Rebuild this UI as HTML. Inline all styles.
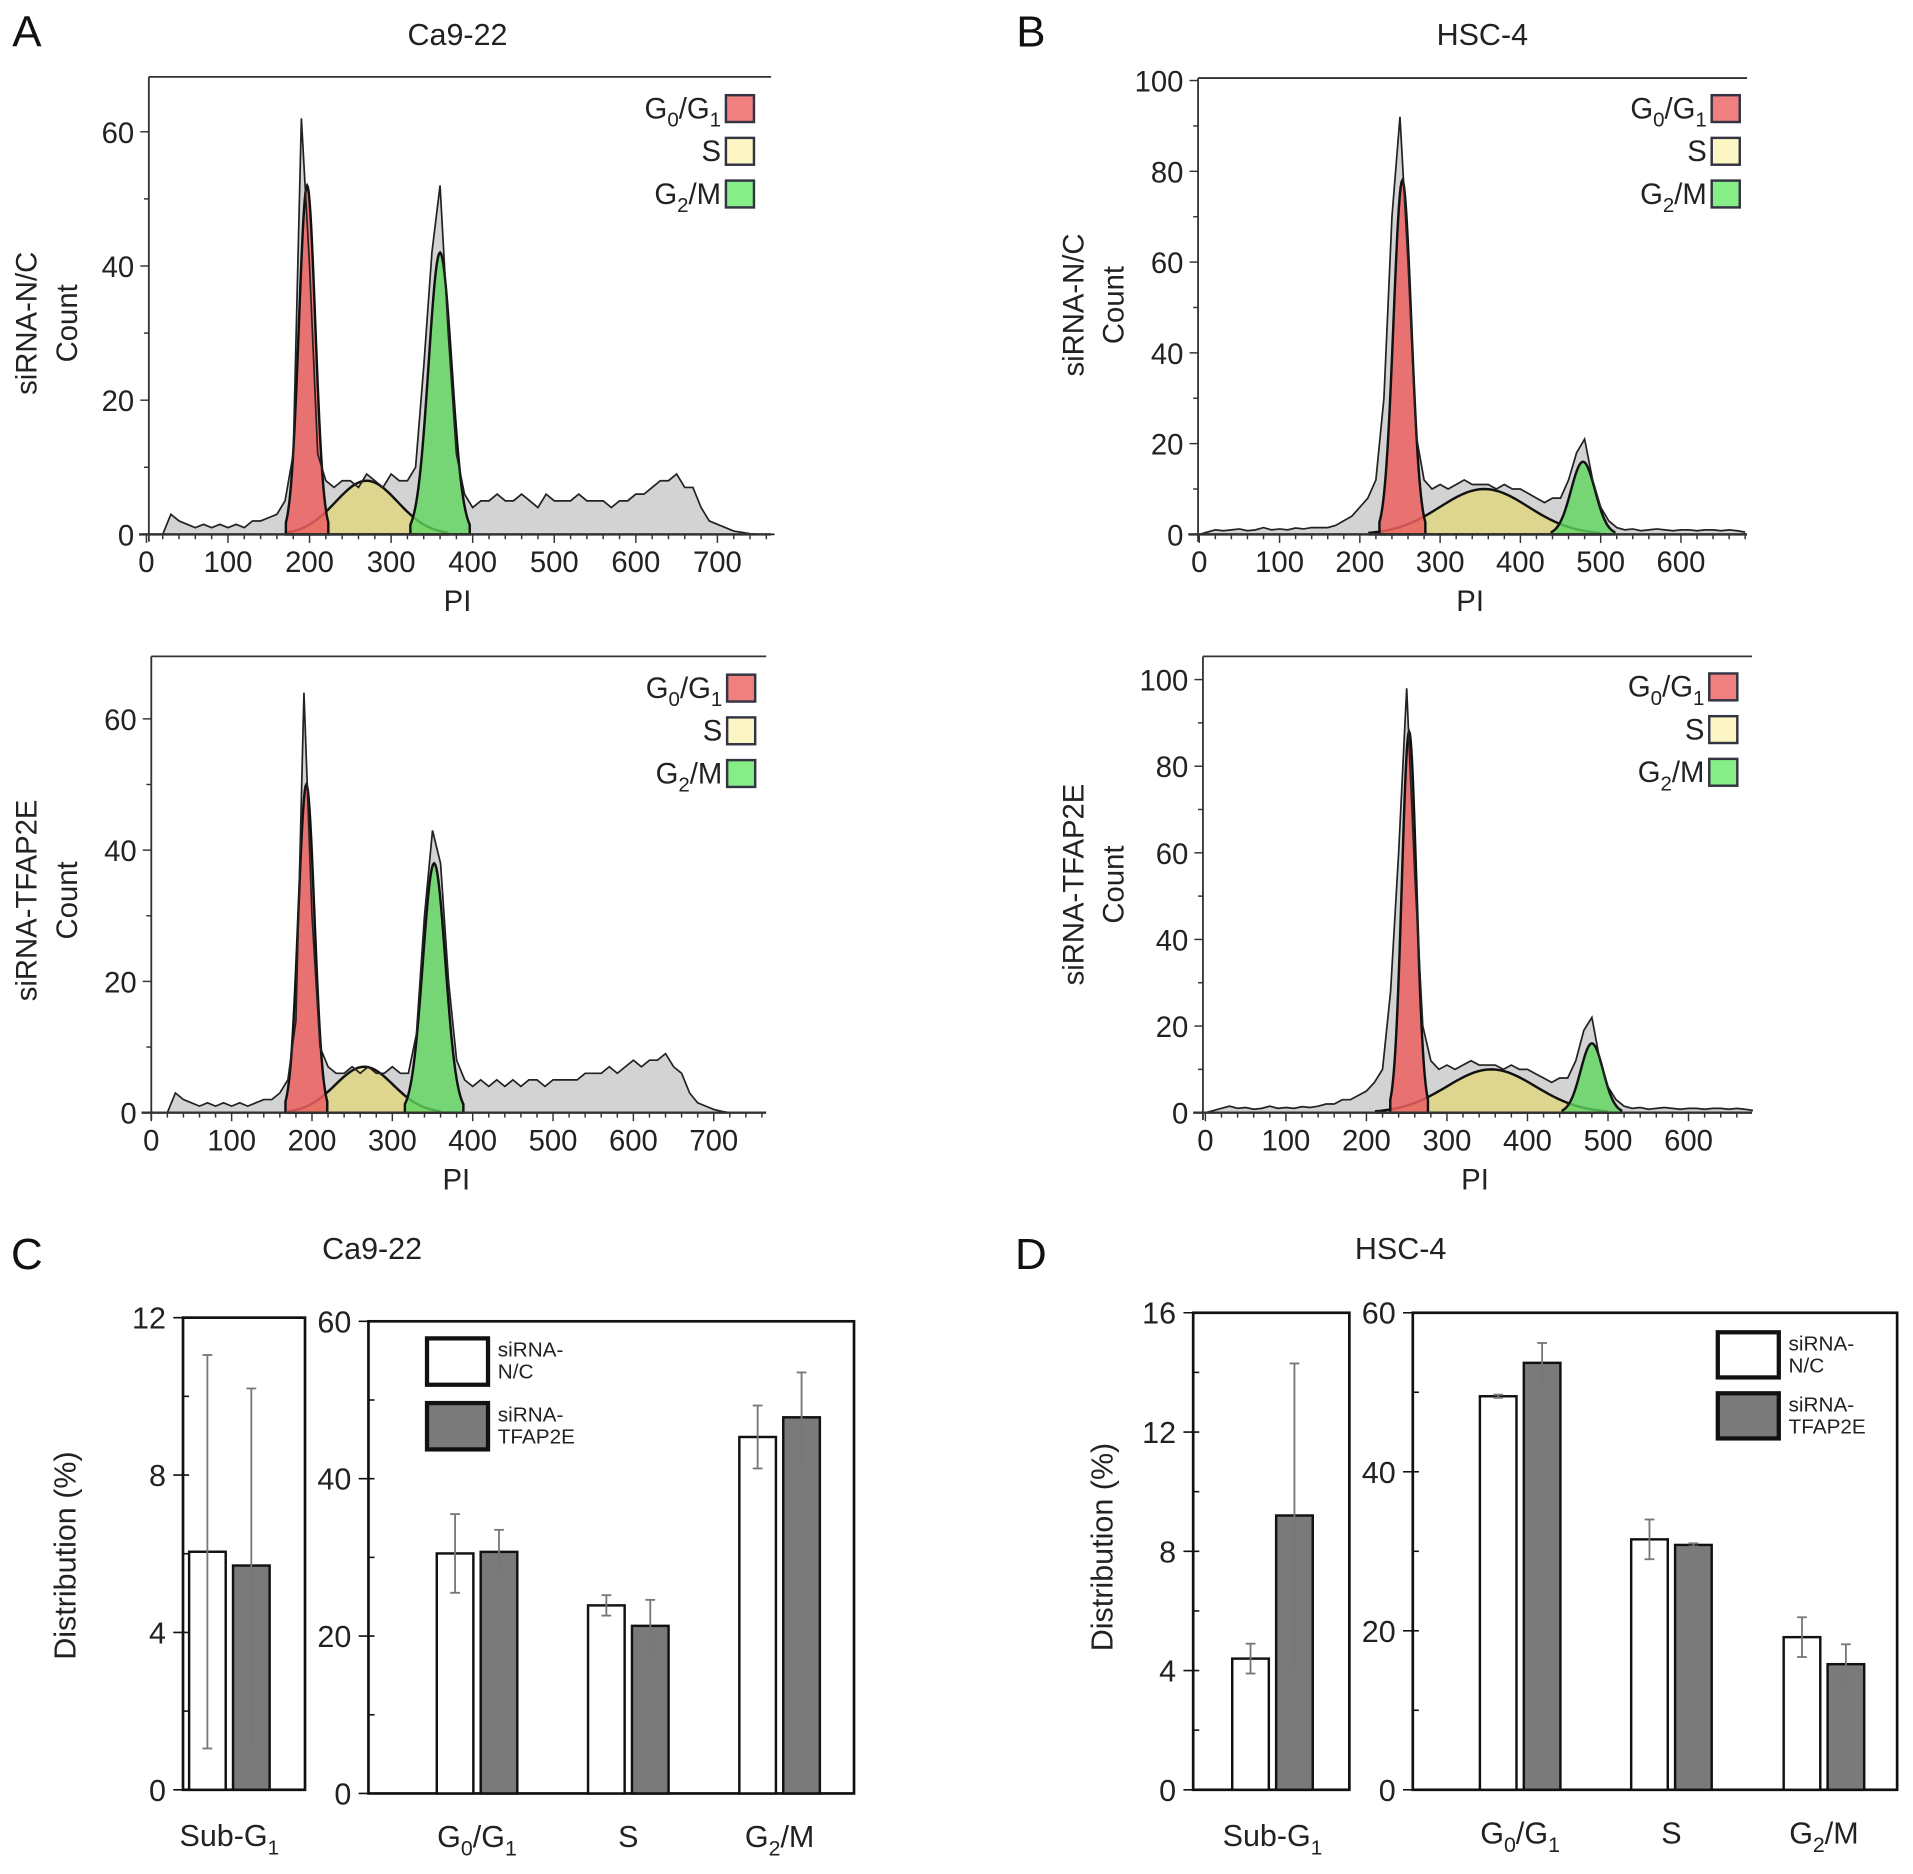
<!DOCTYPE html>
<html><head><meta charset="utf-8"><style>
html,body{margin:0;padding:0;background:#fff;}
svg{display:block;font-family:"Liberation Sans",Arial,sans-serif;}
</style></head><body>
<svg id="fig" width="1913" height="1874" viewBox="0 0 1568 1536" xmlns="http://www.w3.org/2000/svg">
<rect width="1568" height="1536" fill="#fff"/>
<g id="root"></g>
</svg>
<script>
// ---------- Histogram data (counts per 10 PI units starting at 0) ----------
const caNC_hist = [0,0,0,3,2,1.5,1,1.5,1,1.5,1,1.5,1,2,2,2.5,3,5,12,62,40,12,8,7,8,8,7,9,8,7,9,8,8,10,25,42,52,30,12,6,4,5,5,6,5,5,6,5,4,6,5,5,5,6,5,5,5,4,5,5,6,6,7,8,8,9,7,7,4,2,1.5,1,0.5,0.3,0.1,0,0,0];
const caTF_hist = [0,0,0,3,2,1.5,1,1.5,1,1.5,1,1.5,1,1.5,2,2,3,5,14,64,30,10,7,6,6,7,6,7,6,6,7,6,6,12,30,43,38,20,8,5,4,5,4,5,4,5,4,5,5,4,5,5,5,5,6,6,6,7,6,7,8,7,8,8,9,7,6,3,1.5,1,0.5,0.2,0,0,0,0,0];
const hscNC_hist = [0,0.5,1,0.8,1,1.2,0.8,1,1.5,1,1.2,1,1.4,1.2,1.5,1.5,1.5,2,3,4,6,8,12,30,70,92,60,22,12,10,11,10,11,12,11,11,11,10,11,10,10,9,8,7,8,8,12,18,21,12,6,3,1.5,1,1.2,0.8,1,1.2,1,0.8,1,1,0.8,1,1,0.8,1,0.8,0.5];
const hscTF_hist = [0,0.5,1,1.5,1,1.2,0.8,1,1.5,1,1.2,1,1.4,1.2,1.5,2,2,3,3,4,5,7,10,28,60,98,55,20,12,10,11,10,11,12,11,11,11,10,11,10,10,9,8,7,8,8,12,19,22,12,6,3,1.5,1,1.2,0.8,1,1.2,1,0.8,1,1,0.8,1,1,0.8,1,0.8,0.5];
// ---------- Fitted components: [amplitude, center, sigma] ----------
const caNC_fit = {g1:[52,197,10], s:[8,270,38], g2:[42,360,14]};
const caTF_fit = {g1:[50,193,10], s:[7,265,36], g2:[38,352,14]};
const hscNC_fit = {g1:[78,253,11], s:[10,355,55], g2:[16,478,15]};
const hscTF_fit = {g1:[88,253,9], s:[10,355,55], g2:[16,480,14]};
// ---------- Bar data ----------
const phaseCats = ["G0/G1","S","G2/M"];
const caSub_nc = [6.05], caSub_nc_err = [5.0];
const caSub_tf = [5.7], caSub_tf_err = [4.5];
const caPh_nc = [30.5,23.9,45.3], caPh_nc_err = [5.0,1.3,4.0];
const caPh_tf = [30.7,21.3,47.8], caPh_tf_err = [2.8,3.3,5.7];
const hsSub_nc = [4.4], hsSub_nc_err = [0.5];
const hsSub_tf = [9.2], hsSub_tf_err = [5.1];
const hsPh_nc = [49.5,31.5,19.2], hsPh_nc_err = [0.2,2.5,2.5];
const hsPh_tf = [53.7,30.8,15.8], hsPh_tf_err = [2.5,0.2,2.5];
const histXTicks = [0,100,200,300,400,500,600,700];

const NS="http://www.w3.org/2000/svg";
const root=document.getElementById('root');
function el(tag,attrs,parent,text){
  const e=document.createElementNS(NS,tag);
  for(const k in attrs) e.setAttribute(k,attrs[k]);
  if(text!==undefined) e.textContent=text;
  (parent||root).appendChild(e); return e;
}
function label(x,y,txt,size,anchor,parent,sub){
  const t=el('text',{x:x,y:y,'font-size':size,'text-anchor':anchor||'middle',fill:'#222'},parent);
  
  
  // sub: array of [text, isSub]
  (sub||[[txt,false]]).forEach(p=>{
    const s=el('tspan',p[1]?{'font-size':size*0.7,dy:size*0.25}:{dy:p[2]||0},t,p[0]);
  });
  return t;
}
function phaseParts(name){
  if(name==="G0/G1") return [["G",false],["0",true],["/G",false,-0],["1",true]];
  if(name==="G2/M") return [["G",false],["2",true],["/M",false]];
  return [[name,false]];
}
// fix baseline shifts for subscript tspans
function sublabel(x,y,name,size,anchor,parent){
  const t=el('text',{x:x,y:y,'font-size':size,'text-anchor':anchor||'middle',fill:'#222'},parent);
  
  
  let shifted=false;
  phaseParts(name).forEach(p=>{
    if(p[1]){el('tspan',{'font-size':size*0.7,dy:size*0.28},t,p[0]);shifted=true;}
    else{el('tspan',{dy:shifted?-size*0.28:0},t,p[0]);shifted=false;}
  });
  return t;
}

// ---------- Histogram panel ----------
function histPanel(cfg){
  const g=el('g',{});
  
  
  const X=v=>cfg.x0+v*cfg.xpu, Y=v=>cfg.y0-v*cfg.ypu;
  const hist=cfg.hist;
  // gray area
  let pts=[[X(0),Y(0)]];
  hist.forEach((v,i)=>pts.push([X(i*10),Y(v)]));
  pts.push([X((hist.length-1)*10),Y(0)]);
  const area=el('polygon',{points:pts.map(p=>p.join(',')).join(' '),fill:'#d3d3d3',stroke:'none'},g);
  
  
  // components
  const comps=[['s','rgba(225,215,120,0.75)','s-phase-fit'],['g1','rgba(235,95,95,0.85)','g1-phase-fit'],['g2','rgba(95,215,95,0.8)','g2m-phase-fit']];
  comps.forEach(c=>{
    const [a,m,s]=cfg.fit[c[0]];
    let p=[];
    for(let v=m-2.6*s; v<=m+2.6*s+0.01; v+=s/10){p.push([X(v),Y(a*Math.exp(-0.5*((v-m)/s)**2))]);}
    const d='M'+X(m-2.6*s)+','+Y(0)+' L'+p.map(q=>q.join(',')).join(' L')+' L'+X(m+2.6*s)+','+Y(0)+'Z';
    const path=el('path',{d:d,fill:c[1],stroke:'#111','stroke-width':2},g);
    
    
  });
  // hist outline
  const line=el('polyline',{points:hist.map((v,i)=>X(i*10)+','+Y(v)).join(' '),fill:'none',stroke:'#222','stroke-width':1.4},g);
  
  
  // axes
  el('line',{x1:cfg.ax,y1:cfg.top,x2:cfg.xEnd,y2:cfg.top,stroke:'#333','stroke-width':1.5},g);
  el('line',{x1:cfg.ax,y1:cfg.top,x2:cfg.ax,y2:cfg.y0+6,stroke:'#333','stroke-width':1.5},g);
  el('line',{x1:cfg.ax-8,y1:cfg.y0,x2:cfg.xEnd,y2:cfg.y0,stroke:'#333','stroke-width':2},g);
  for(let v=0;X(v)<=cfg.xEnd;v+=20){
    const major=v%100===0;
    el('line',{x1:X(v),y1:cfg.y0,x2:X(v),y2:cfg.y0+(major?7:4),stroke:'#333','stroke-width':1.2},g);
  }
  cfg.xt.forEach(v=>{ label(X(v),cfg.y0+31,String(v),24,'middle',g); });
  for(let v=0;Y(v)>=cfg.top;v+=cfg.yminor){
    el('line',{x1:cfg.ax-(v%cfg.ystep===0?7:4),y1:Y(v),x2:cfg.ax,y2:Y(v),stroke:'#333','stroke-width':1.2},g);
  }
  for(let v=0;Y(v)>=cfg.top;v+=cfg.ystep){ label(cfg.ax-12,Y(v)+9,String(v),24,'end',g); }
  label((cfg.ax+cfg.xEnd)/2-2,cfg.y0+63,'PI',24,'middle',g);
  // y title
  const yt=el('text',{transform:`translate(${cfg.ylx},${cfg.ylY}) rotate(-90)`,'font-size':24,'text-anchor':'middle',fill:'#222'},g);
  
  
  el('tspan',{x:0,dy:0},yt,cfg.ytitle);
  el('tspan',{x:0,dy:33},yt,'Count');
  // legend
  const lg=[['G0/G1','#f07f80'],['S','#fbf6c3'],['G2/M','#86ee86']];
  lg.forEach((l,i)=>{
    const by=cfg.ly+i*35;
    const r=el('rect',{x:cfg.lx,y:by,width:23,height:22,fill:l[1],stroke:'#334','stroke-width':2},g);
    
    
    sublabel(cfg.lx-4,by+19,l[0],24,'end',g);
  });
}
histPanel({name:'hist-ca922-nc',hist:caNC_hist,fit:caNC_fit,x0:120,xpu:0.6686,y0:438,ypu:5.5,ax:122,top:63,xEnd:632,xt:histXTicks,ystep:20,yminor:10,ylx:30,ylY:265,ytitle:'siRNA-N/C',lx:595,ly:78});
histPanel({name:'hist-ca922-tfap2e',hist:caTF_hist,fit:caTF_fit,x0:124,xpu:0.6586,y0:912,ypu:5.38,ax:124,top:538,xEnd:628,xt:histXTicks,ystep:20,yminor:10,ylx:30,ylY:738,ytitle:'siRNA-TFAP2E',lx:596,ly:553});
histPanel({name:'hist-hsc4-nc',hist:hscNC_hist,fit:hscNC_fit,x0:983,xpu:0.658,y0:438,ypu:3.72,ax:982,top:64,xEnd:1432,xt:histXTicks.slice(0,7),ystep:20,yminor:10,ylx:888,ylY:250,ytitle:'siRNA-N/C',lx:1403,ly:78});
histPanel({name:'hist-hsc4-tfap2e',hist:hscTF_hist,fit:hscTF_fit,x0:988,xpu:0.66,y0:912,ypu:3.55,ax:986,top:538,xEnd:1436,xt:histXTicks.slice(0,7),ystep:20,yminor:10,ylx:888,ylY:725,ytitle:'siRNA-TFAP2E',lx:1401,ly:552});

// ---------- Bar panel ----------
function barPanel(cfg){
  const g=el('g',{});
  
  
  const Y=v=>cfg.y0-v*(cfg.y0-cfg.top)/cfg.ymax;
  el('rect',{x:cfg.x1,y:cfg.top,width:cfg.x2-cfg.x1,height:cfg.y0-cfg.top,fill:'none',stroke:'#111','stroke-width':2.2},g);
  for(let v=0;v<=cfg.ymax;v+=cfg.yminor){
    el('line',{x1:cfg.x1-(v%cfg.ystep===0?8:0),y1:Y(v),x2:cfg.x1+5,y2:Y(v),stroke:'#111','stroke-width':1.3},g);
  }
  for(let v=0;v<=cfg.ymax;v+=cfg.ystep) label(cfg.x1-14,Y(v)+9,String(v),25,'end',g);
  cfg.cats.forEach((c,i)=>{
    const cx=cfg.cx[i];
    [[cfg.nc,cfg.ncErr,'#fff','bar-nc-'],[cfg.tf,cfg.tfErr,'#7a7a7a','bar-tfap2e-']].forEach((s,j)=>{
      const bx=j===0?cx-cfg.bw-3:cx+3;
      const v=s[0][i],e=s[1][i];
      const r=el('rect',{x:bx,y:Y(v),width:cfg.bw,height:Y(0)-Y(v),fill:s[2],stroke:'#111','stroke-width':2},g);
      
      
      const mx=bx+cfg.bw/2;
      el('line',{x1:mx,y1:Y(v+e),x2:mx,y2:Y(v-e),stroke:'#777','stroke-width':1.5},g);
      el('line',{x1:mx-4,y1:Y(v+e),x2:mx+4,y2:Y(v+e),stroke:'#777','stroke-width':1.5},g);
      el('line',{x1:mx-4,y1:Y(v-e),x2:mx+4,y2:Y(v-e),stroke:'#777','stroke-width':1.5},g);
    });
    if(c==='Sub-G1'){
      const t=el('text',{x:cx,y:cfg.y0+46,'font-size':25,'text-anchor':'middle',fill:'#222'},g);
      
      
      el('tspan',{},t,'Sub-G');el('tspan',{'font-size':17,dy:7},t,'1');
    } else sublabel(cx,cfg.y0+44,c,25,'middle',g);
  });
  if(cfg.legend){
    const L=cfg.legend;
    [['#fff','siRNA-','N/C'],['#7a7a7a','siRNA-','TFAP2E']].forEach((l,i)=>{
      const by=L.y+i*L.dy;
      const r=el('rect',{x:L.x,y:by,width:50,height:L.h,fill:l[0],stroke:'#111','stroke-width':3.5},g);
      
      
      label(L.x+58,by+15,l[1],17,'start',g);
      label(L.x+58,by+33,l[2],17,'start',g);
    });
  }
  if(cfg.ytitle){
    const yt=el('text',{transform:`translate(${cfg.ytitle[0]},${cfg.ytitle[1]}) rotate(-90)`,'font-size':25,'text-anchor':'middle',fill:'#222'},g,'Distribution (%)');
    
    
  }
}
barPanel({name:'bar-ca922-subg1',x1:150,x2:250,top:1080,y0:1467,ymax:12,ystep:4,yminor:2,cats:['Sub-G1'],cx:[188],bw:30,nc:caSub_nc,ncErr:caSub_nc_err,tf:caSub_tf,tfErr:caSub_tf_err,ytitle:[62,1275]});
barPanel({name:'bar-ca922-phases',x1:302,x2:700,top:1083,y0:1470,ymax:60,ystep:20,yminor:10,cats:phaseCats,cx:[391,515,639],bw:30,nc:caPh_nc,ncErr:caPh_nc_err,tf:caPh_tf,tfErr:caPh_tf_err,legend:{x:350,y:1097,dy:53,h:38}});
barPanel({name:'bar-hsc4-subg1',x1:978,x2:1106,top:1076,y0:1467,ymax:16,ystep:4,yminor:2,cats:['Sub-G1'],cx:[1043],bw:30,nc:hsSub_nc,ncErr:hsSub_nc_err,tf:hsSub_tf,tfErr:hsSub_tf_err,ytitle:[912,1268]});
barPanel({name:'bar-hsc4-phases',x1:1158,x2:1555,top:1076,y0:1467,ymax:60,ystep:20,yminor:10,cats:phaseCats,cx:[1246,1370,1495],bw:30,nc:hsPh_nc,ncErr:hsPh_nc_err,tf:hsPh_tf,tfErr:hsPh_tf_err,legend:{x:1408,y:1092,dy:50,h:37}});

// ---------- Titles ----------
[['A',22,38],['B',845,38],['C',22,1040],['D',845,1040]].forEach(p=>{
  const t=el('text',{x:p[1],y:p[2],'font-size':36,'text-anchor':'middle',fill:'#111'},root,p[0]);
  
  
});
[['Ca9-22',375,37],['HSC-4',1215,37],['Ca9-22',305,1032],['HSC-4',1148,1032]].forEach(p=>{
  const t=el('text',{x:p[1],y:p[2],'font-size':25,'text-anchor':'middle',fill:'#222'},root,p[0]);
  
  
});
</script>
</body></html>
